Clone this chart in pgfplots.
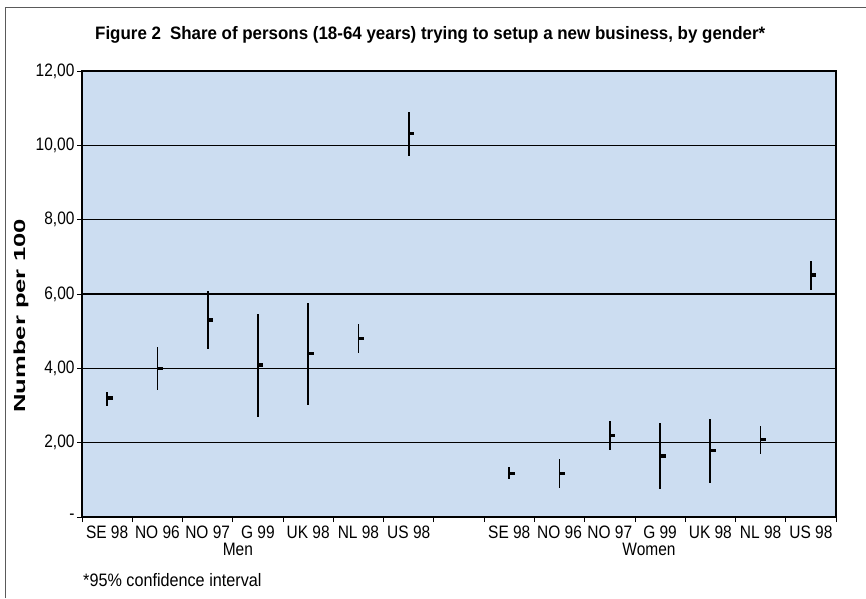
\documentclass[border=0pt]{standalone}
\usepackage{fontspec}
\setmainfont{Liberation Sans}
\newfontfamily\ticksfont{Liberation Sans}[FakeStretch=0.86]
\newfontfamily\notefont{Liberation Sans}[FakeStretch=0.9]
\newfontfamily\titlefont{Liberation Sans}[FakeStretch=0.94]
\newfontfamily\ylabfont{Liberation Sans}[FakeStretch=1.6]
\usepackage{pgfplots}
\usepackage{pgfplotstable}
\pgfplotsset{compat=1.18}
\definecolor{plotbg}{RGB}{204,221,241}
\definecolor{framegray}{RGB}{90,90,90}

% short dash to the right of the interval line, marking the estimate
\pgfdeclareplotmark{esttick}{%
  \pgfpathrectangle{\pgfpoint{0pt}{-1.6pt}}{\pgfpoint{5.5pt}{3.2pt}}%
  \pgfusepathqfill}

% position, estimate, lower and upper bound of the 95% interval
\pgfplotstableread{
x    est    low   high
0.5  3.20   2.99  3.37
1.5  4.00   3.41  4.58
2.5  5.30   4.52  6.08
3.5  4.09   2.69  5.47
4.5  4.40   3.02  5.76
5.5  4.80   4.41  5.18
6.5  10.32  9.72  10.90
}\men
\pgfplotstableread{
x     est   low   high
8.5   1.18  1.02  1.34
9.5   1.18  0.79  1.56
10.5  2.19  1.79  2.57
11.5  1.64  0.75  2.53
12.5  1.79  0.91  2.65
13.5  2.08  1.69  2.46
14.5  6.51  6.10  6.89
}\women

\begin{document}
\begin{tikzpicture}[x=1pt,y=1pt]
  \path[use as bounding box] (0,0) rectangle (866,598);
  \draw[framegray, line width=1pt] (5,0) -- (5,590) -- (866,590);
  \node[anchor=base west, inner sep=0pt, font=\titlefont\bfseries\fontsize{18}{20}\selectfont]
    at (95,558) {Figure 2\enspace Share of persons (18-64 years) trying to setup a new business, by gender*};
  \node[anchor=base west, inner sep=0pt, font=\notefont\fontsize{18}{20}\selectfont]
    at (83,12) {*95\% confidence interval};
  \node[rotate=90, anchor=center, font=\ylabfont\bfseries\fontsize{16}{18}\selectfont]
    at (21,282) {Number per 100};
  \begin{axis}[
    at={(82pt,81pt)}, anchor=south west,
    width=754pt, height=446pt, scale only axis,
    xmin=0, xmax=15, ymin=0, ymax=12,
    axis background/.style={fill=plotbg},
    axis line style={black, line width=1.6pt},
    clip=false,
    xtick={0.5,1.5,2.5,3.5,4.5,5.5,6.5,8.5,9.5,10.5,11.5,12.5,13.5,14.5},
    xticklabels={SE 98,NO 96,NO 97,G 99,UK 98,NL 98,US 98,
                 SE 98,NO 96,NO 97,G 99,UK 98,NL 98,US 98},
    minor xtick={0,1,...,15},
    major x tick style={draw=none},
    minor x tick style={black, line width=0.8pt},
    minor tick length=5pt,
    ytick={0,2,4,6,8,10,12},
    yticklabels={-,{2,00},{4,00},{6,00},{8,00},{10,00},{12,00}},
    major y tick style={black, line width=0.8pt},
    major tick length=5pt,
    tick align=outside,
    xtick pos=bottom, ytick pos=left,
    ymajorgrids, grid style={black, line width=1.2pt},
    tick label style={font=\ticksfont\fontsize{18}{20}\selectfont},
    xticklabel style={anchor=base, yshift=-16pt},
    yticklabel style={xshift=1pt},
  ]
    \addplot[only marks, mark=esttick, black,
      error bars/.cd, y dir=both, y explicit, error mark=none,
      error bar style={black, line width=1.7pt}]
      table[x=x, y=est,
            y error plus expr=\thisrow{high}-\thisrow{est},
            y error minus expr=\thisrow{est}-\thisrow{low}] {\men};
    \addplot[only marks, mark=esttick, black,
      error bars/.cd, y dir=both, y explicit, error mark=none,
      error bar style={black, line width=1.7pt}]
      table[x=x, y=est,
            y error plus expr=\thisrow{high}-\thisrow{est},
            y error minus expr=\thisrow{est}-\thisrow{low}] {\women};
    \node[anchor=base, font=\ticksfont\fontsize{18}{20}\selectfont]
      at (axis cs:3.1,0) [yshift=-38pt] {Men};
    \node[anchor=base, font=\ticksfont\fontsize{18}{20}\selectfont]
      at (axis cs:11.28,0) [yshift=-38pt] {Women};
  \end{axis}
\end{tikzpicture}
\end{document}
